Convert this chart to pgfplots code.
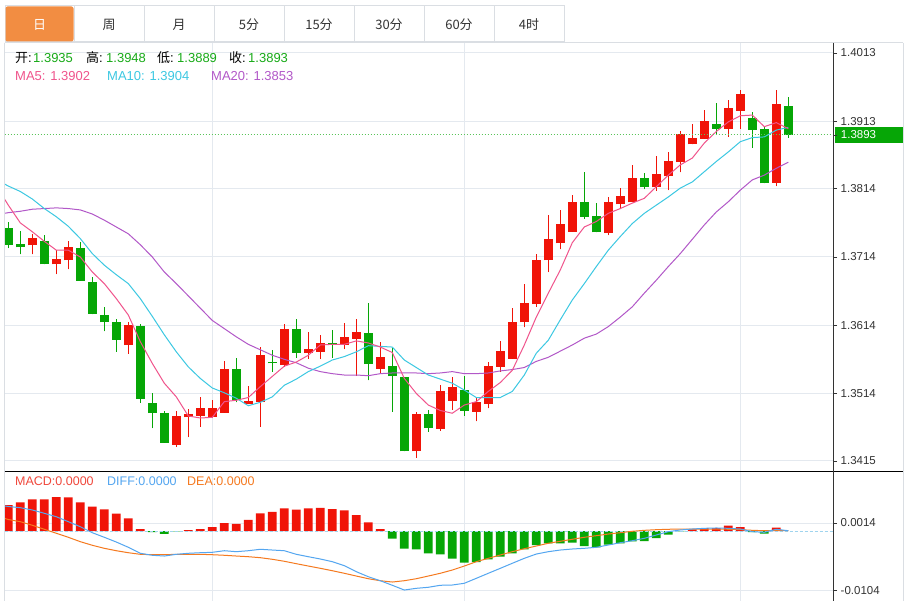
\documentclass[border=0pt]{standalone}
\usepackage{pgfplots}
\pgfplotsset{compat=1.18}
\usepackage{pgfplotstable}
\usepackage{fontspec}
\setmainfont{Liberation Sans}
\newfontfamily\cjk{Noto Sans CJK SC}
\definecolor{cred}{RGB}{240,20,8}
\definecolor{cgreen}{RGB}{6,166,6}
\definecolor{tgreen}{RGB}{24,170,24}
\definecolor{cma5}{RGB}{240,84,140}
\definecolor{cma10}{RGB}{60,200,226}
\definecolor{cma20}{RGB}{178,88,200}
\definecolor{cdiff}{RGB}{84,166,240}
\definecolor{cdea}{RGB}{245,122,32}
\definecolor{tmacd}{RGB}{240,72,60}
\definecolor{gridc}{RGB}{228,233,239}
\definecolor{tabc}{RGB}{218,222,227}
\definecolor{corange}{RGB}{242,141,66}
\definecolor{labc}{RGB}{51,51,51}
\definecolor{zeroc}{RGB}{160,212,238}
\definecolor{dotc}{RGB}{90,196,90}

\pgfplotstableread{
i O H L C
2 1.3731 1.3748 1.3718 1.3742
4 1.3703 1.3724 1.3689 1.3711
5 1.3709 1.3738 1.3696 1.3729
10 1.3585 1.3618 1.3572 1.3614
14 1.3439 1.3488 1.3436 1.3481
15 1.3479 1.3491 1.3450 1.3484
16 1.3481 1.3509 1.3465 1.3492
17 1.3480 1.3505 1.3478 1.3492
18 1.3486 1.3562 1.3486 1.3550
20 1.3498 1.3525 1.3498 1.3503
21 1.3501 1.3582 1.3465 1.3570
23 1.3556 1.3616 1.3553 1.3609
25 1.3573 1.3604 1.3565 1.3579
26 1.3575 1.3600 1.3565 1.3588
28 1.3585 1.3617 1.3579 1.3597
29 1.3594 1.3623 1.3540 1.3604
31 1.3550 1.3589 1.3544 1.3567
34 1.3429 1.3487 1.3420 1.3484
36 1.3462 1.3526 1.3459 1.3518
37 1.3503 1.3538 1.3490 1.3524
39 1.3487 1.3508 1.3473 1.3501
40 1.3499 1.3560 1.3492 1.3554
41 1.3553 1.3591 1.3546 1.3576
42 1.3565 1.3639 1.3565 1.3619
43 1.3618 1.3674 1.3611 1.3646
44 1.3645 1.3718 1.3641 1.3710
45 1.3709 1.3775 1.3692 1.3741
46 1.3734 1.3783 1.3725 1.3762
47 1.3751 1.3805 1.3751 1.3795
50 1.3749 1.3802 1.3746 1.3794
51 1.3791 1.3815 1.3784 1.3803
52 1.3794 1.3849 1.3794 1.3830
54 1.3816 1.3862 1.3811 1.3836
55 1.3832 1.3868 1.3812 1.3854
56 1.3853 1.3898 1.3838 1.3894
57 1.3879 1.3909 1.3879 1.3888
58 1.3887 1.3929 1.3887 1.3914
60 1.3902 1.3944 1.3890 1.3933
61 1.3928 1.3959 1.3902 1.3953
64 1.3823 1.3959 1.3818 1.3938
}\redtab

\pgfplotstableread{
i O H L C
0 1.3757 1.3765 1.3727 1.3732
1 1.3733 1.3752 1.3718 1.3728
3 1.3738 1.3746 1.3703 1.3703
6 1.3727 1.3736 1.3679 1.3679
7 1.3677 1.3684 1.3630 1.3631
8 1.3629 1.3641 1.3605 1.3618
9 1.3619 1.3623 1.3575 1.3593
11 1.3613 1.3616 1.3500 1.3506
12 1.3500 1.3515 1.3463 1.3485
13 1.3485 1.3488 1.3442 1.3442
19 1.3550 1.3566 1.3501 1.3504
22 1.3560 1.3577 1.3546 1.3558
24 1.3609 1.3623 1.3566 1.3574
27 1.3588 1.3607 1.3566 1.3585
30 1.3603 1.3647 1.3533 1.3557
32 1.3554 1.3580 1.3487 1.3539
33 1.3538 1.3538 1.3429 1.3429
35 1.3484 1.3490 1.3458 1.3463
38 1.3519 1.3540 1.3481 1.3489
48 1.3794 1.3839 1.3770 1.3773
49 1.3774 1.3793 1.3750 1.3750
53 1.3830 1.3837 1.3813 1.3816
59 1.3909 1.3940 1.3895 1.3902
62 1.3918 1.3927 1.3874 1.3900
63 1.3901 1.3906 1.3822 1.3822
65 1.3935 1.3948 1.3889 1.3893
}\greentab

\pgfplotstableread{
i ma5 ma10 ma20
-0.317 1.3799 1.3821 1.3778
0 1.3790 1.3818 1.3779
1 1.3764 1.3810 1.3781
2 1.3751 1.3799 1.3784
3 1.3737 1.3785 1.3785
4 1.3724 1.3773 1.3786
5 1.3724 1.3759 1.3785
6 1.3714 1.3741 1.3783
7 1.3692 1.3719 1.3777
8 1.3675 1.3702 1.3768
9 1.3653 1.3688 1.3758
10 1.3629 1.3675 1.3748
11 1.3590 1.3653 1.3732
12 1.3558 1.3627 1.3714
13 1.3529 1.3600 1.3692
14 1.3509 1.3575 1.3675
15 1.3481 1.3553 1.3657
16 1.3478 1.3536 1.3639
17 1.3479 1.3522 1.3621
18 1.3502 1.3515 1.3609
19 1.3504 1.3507 1.3597
20 1.3508 1.3496 1.3586
21 1.3524 1.3501 1.3578
22 1.3539 1.3509 1.3570
23 1.3554 1.3526 1.3564
24 1.3560 1.3535 1.3559
25 1.3570 1.3546 1.3551
26 1.3585 1.3554 1.3546
27 1.3586 1.3563 1.3543
28 1.3586 1.3568 1.3541
29 1.3591 1.3575 1.3541
30 1.3588 1.3584 1.3540
31 1.3582 1.3583 1.3543
32 1.3574 1.3582 1.3544
33 1.3536 1.3563 1.3544
34 1.3514 1.3552 1.3544
35 1.3497 1.3541 1.3543
36 1.3489 1.3535 1.3544
37 1.3485 1.3529 1.3546
38 1.3497 1.3519 1.3543
39 1.3502 1.3508 1.3543
40 1.3517 1.3508 1.3544
41 1.3530 1.3508 1.3547
42 1.3548 1.3517 1.3549
43 1.3585 1.3541 1.3552
44 1.3626 1.3573 1.3561
45 1.3661 1.3592 1.3567
46 1.3695 1.3622 1.3576
47 1.3735 1.3651 1.3585
48 1.3758 1.3675 1.3595
49 1.3766 1.3700 1.3601
50 1.3778 1.3724 1.3612
51 1.3785 1.3744 1.3626
52 1.3793 1.3763 1.3641
53 1.3800 1.3778 1.3661
54 1.3817 1.3790 1.3680
55 1.3834 1.3802 1.3700
56 1.3849 1.3815 1.3719
57 1.3859 1.3824 1.3740
58 1.3881 1.3839 1.3761
59 1.3898 1.3854 1.3780
60 1.3912 1.3868 1.3795
61 1.3921 1.3883 1.3812
62 1.3922 1.3889 1.3827
63 1.3905 1.3890 1.3834
64 1.3911 1.3900 1.3844
65 1.3902 1.3904 1.3853
}\matab

\pgfplotstableread{
i diff dea
-0.317 0.00438 0.00222
0 0.00429 0.00201
1 0.00408 0.00163
2 0.00368 0.00100
3 0.00310 0.00030
4 0.00250 -0.00040
5 0.00163 -0.00110
6 0.00075 -0.00187
7 -0.00030 -0.00250
8 -0.00110 -0.00303
9 -0.00193 -0.00345
10 -0.00285 -0.00380
11 -0.00390 -0.00408
12 -0.00425 -0.00415
13 -0.00438 -0.00415
14 -0.00408 -0.00408
15 -0.00390 -0.00408
16 -0.00380 -0.00408
17 -0.00373 -0.00415
18 -0.00345 -0.00425
19 -0.00362 -0.00438
20 -0.00345 -0.00450
21 -0.00320 -0.00467
22 -0.00333 -0.00495
23 -0.00345 -0.00530
24 -0.00408 -0.00572
25 -0.00450 -0.00613
26 -0.00490 -0.00653
27 -0.00537 -0.00695
28 -0.00607 -0.00740
29 -0.00712 -0.00788
30 -0.00800 -0.00835
31 -0.00870 -0.00870
32 -0.00950 -0.00893
33 -0.01033 -0.00870
34 -0.01003 -0.00835
35 -0.00985 -0.00788
36 -0.00950 -0.00740
37 -0.00945 -0.00683
38 -0.00915 -0.00613
39 -0.00828 -0.00537
40 -0.00740 -0.00478
41 -0.00653 -0.00420
42 -0.00565 -0.00362
43 -0.00478 -0.00310
44 -0.00403 -0.00263
45 -0.00362 -0.00215
46 -0.00333 -0.00180
47 -0.00315 -0.00145
48 -0.00303 -0.00110
49 -0.00285 -0.00082
50 -0.00245 -0.00053
51 -0.00205 -0.00030
52 -0.00170 -0.00005
53 -0.00128 0.00012
54 -0.00070 0.00023
55 -0.00012 0.00030
56 0.00018 0.00035
57 0.00035 0.00035
58 0.00047 0.00035
59 0.00053 0.00035
60 0.00047 0.00030
61 0.00035 0.00023
62 -0.00012 0.00012
63 -0.00023 0.00005
64 0.00030 0.00012
65 0.00005 0.00005
}\macdtab

\pgfplotsset{
  panel/.style={
    scale only axis, width=828.5bp,
    xmin=-0.317, xmax=68.725,
    axis line style={draw=none},
    xtick={17,38,61}, xticklabels={}, xmajorgrids, ymajorgrids,
    xtick style={draw=none},
    grid style={draw=gridc, line width=1bp},
    ytick pos=right, yticklabel pos=right,
    major tick length=4bp, tick align=outside,
    ytick style={draw=labc, line width=0.8bp},
    scaled ticks=false,
    yticklabel style={font=\fontsize{11.5bp}{13bp}\selectfont, text=labc, anchor=west, inner sep=0pt, xshift=3.5bp},
  },
  wick/.style={only marks, mark=none, mark size=0pt, mark options={draw=none, fill=none}, forget plot,
    error bars/.cd, y dir=plus, y explicit, error mark=none,
    error bar style={draw=#1, line width=1bp}},
  body/.style={only marks, mark=none, mark size=0pt, mark options={draw=none, fill=none}, forget plot,
    error bars/.cd, y dir=plus, y explicit, error mark=none,
    error bar style={draw=#1, line width=8.8bp}},
}

\begin{document}
\begin{tikzpicture}
\useasboundingbox (0,0) rectangle (909bp,601bp);
\fill[white] (0,0) rectangle (909bp,601bp);

% tabs
\foreach \a/\b in {5/74,74/144,144/214,214/284,284/354,354/424,424/494,494/564}
  \draw[tabc, line width=1bp] (\a bp,595bp) rectangle (\b bp,559bp);
\fill[corange, rounded corners=2bp] (5.5bp,594.5bp) rectangle (73.5bp,559.5bp);
\begin{scope}[every node/.style={font=\cjk\fontsize{13bp}{15bp}\selectfont, text=labc, inner sep=0pt}]
\node[text=white] at (39.5bp,576.5bp) {日};
\node at (109bp,576.5bp) {周};
\node at (179bp,576.5bp) {月};
\node at (249bp,576.5bp) {5分};
\node at (319bp,576.5bp) {15分};
\node at (389bp,576.5bp) {30分};
\node at (459bp,576.5bp) {60分};
\node at (529bp,576.5bp) {4时};
\end{scope}

% price panel
\begin{axis}[panel, at={(4.5bp,558.3bp)}, anchor=north west, height=428.8bp,
  ymin=1.33996, ymax=1.40281,
  ytick={1.3415,1.3514,1.3614,1.3714,1.3814,1.3913,1.4013},
  yticklabels={1.3415,1.3514,1.3614,1.3714,1.3814,1.3913,1.4013}]
\addplot[wick=cred] table[x=i, y=L, y error plus expr={\thisrow{H}-\thisrow{L}}] {\redtab};
\addplot[body=cred] table[x=i, y=O, y error plus expr={\thisrow{C}-\thisrow{O}}] {\redtab};
\addplot[wick=cgreen] table[x=i, y=L, y error plus expr={\thisrow{H}-\thisrow{L}}] {\greentab};
\addplot[body=cgreen] table[x=i, y=C, y error plus expr={\thisrow{O}-\thisrow{C}}] {\greentab};
\addplot[cma20, line width=1bp] table[x=i, y=ma20] {\matab};
\addplot[cma10, line width=1bp] table[x=i, y=ma10] {\matab};
\addplot[cma5, line width=1bp] table[x=i, y=ma5] {\matab};
\addplot[dotc, line width=1.2bp, dash pattern=on 1.3bp off 1.7bp] coordinates {(-0.317,1.3893) (68.725,1.3893)};
\end{axis}

% MACD panel
\begin{axis}[panel, at={(4.5bp,129.3bp)}, anchor=north west, height=129.3bp,
  ymin=-0.01225, ymax=0.010378,
  ytick={-0.0104,0.0014}, yticklabels={-0.0104,0.0014}]
\addplot[ybar, bar width=8.8bp, bar shift=0pt, fill=cred, draw=none] coordinates {
(0,0.00455) (1,0.00502) (2,0.00555) (3,0.00555) (4,0.00595) (5,0.00590) (6,0.00502)
(7,0.00425) (8,0.00380) (9,0.00303) (10,0.00222) (11,0.00035) (15,0.00015) (16,0.00035)
(17,0.00070) (18,0.00140) (19,0.00123) (20,0.00193) (21,0.00310) (22,0.00333) (23,0.00397)
(24,0.00373) (25,0.00397) (26,0.00403) (27,0.00385) (28,0.00362) (29,0.00280) (30,0.00152)
(31,0.00035) (57,0.00030) (58,0.00052) (59,0.00052) (60,0.00093) (61,0.00070) (64,0.00058)};
\addplot[ybar, bar width=8.8bp, bar shift=0pt, fill=cgreen, draw=none] coordinates {
(12,-0.00018) (13,-0.00052) (14,-0.00008) (32,-0.00135) (33,-0.00310) (34,-0.00320)
(35,-0.00390) (36,-0.00408) (37,-0.00485) (38,-0.00555) (39,-0.00543) (40,-0.00495)
(41,-0.00450) (42,-0.00390) (43,-0.00320) (44,-0.00245) (45,-0.00215) (46,-0.00215)
(47,-0.00205) (48,-0.00263) (49,-0.00285) (50,-0.00240) (51,-0.00215) (52,-0.00180)
(53,-0.00175) (54,-0.00123) (55,-0.00065) (56,-0.00008) (62,-0.00018) (63,-0.00047)};
\addplot[zeroc, line width=1bp, dash pattern=on 3bp off 2bp] coordinates {(-0.317,0) (68.725,0)};
\addplot[cdea, line width=1bp] table[x=i, y=dea] {\macdtab};
\addplot[cdiff, line width=1bp] table[x=i, y=diff] {\macdtab};
\end{axis}

% frame lines
\draw[tabc, line width=1bp] (4.5bp,558.3bp) -- (903bp,558.3bp);
\draw[tabc, line width=1bp] (4.5bp,558.3bp) -- (4.5bp,0);
\draw[tabc, line width=1bp] (903bp,558.3bp) -- (903bp,0);
\draw[black, line width=1bp] (4.5bp,129.3bp) -- (903bp,129.3bp);
\draw[labc, line width=1bp] (833.3bp,558.3bp) -- (833.3bp,0);

% current price box
\fill[cgreen] (835bp,457.7bp) rectangle (903bp,474.3bp);
\draw[labc, line width=0.8bp] (833.3bp,466bp) -- (837.3bp,466bp);
\node[anchor=west, inner sep=0pt, text=white, font=\fontsize{11.5bp}{13bp}\selectfont] at (840.7bp,466bp) {1.3893};

% legends
\begin{scope}[every node/.style={anchor=base west, inner sep=0pt, font=\fontsize{13bp}{15bp}\selectfont}]
\node[text=black] at (15bp,538.3bp) {{\cjk 开}:};
\node[text=tgreen] at (33bp,538.3bp) {1.3935};
\node[text=black] at (86bp,538.3bp) {{\cjk 高}:};
\node[text=tgreen] at (106bp,538.3bp) {1.3948};
\node[text=black] at (157bp,538.3bp) {{\cjk 低}:};
\node[text=tgreen] at (177bp,538.3bp) {1.3889};
\node[text=black] at (229bp,538.3bp) {{\cjk 收}:};
\node[text=tgreen] at (248bp,538.3bp) {1.3893};
\node[text=cma5] at (15bp,520.3bp) {MA5: 1.3902};
\node[text=cma10] at (107bp,520.3bp) {MA10: 1.3904};
\node[text=cma20] at (211bp,520.3bp) {MA20: 1.3853};
\end{scope}
\begin{scope}[every node/.style={anchor=base west, inner sep=0pt, font=\fontsize{12.5bp}{14bp}\selectfont}]
\node[text=tmacd] at (15bp,115.3bp) {MACD:0.0000};
\node[text=cdiff] at (107bp,115.3bp) {DIFF:0.0000};
\node[text=cdea] at (187bp,115.3bp) {DEA:0.0000};
\end{scope}
\end{tikzpicture}
\end{document}
